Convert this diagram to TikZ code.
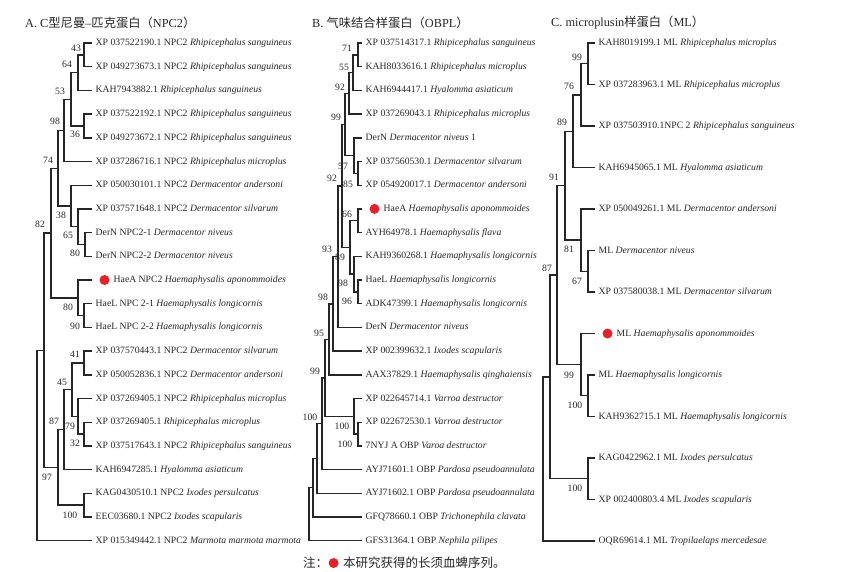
\documentclass[tikz,border=0pt]{standalone}
\usepackage{fontspec}
\setmainfont{Liberation Serif}
\newfontfamily\cjk{Noto Sans CJK SC}
\usetikzlibrary{positioning}
\definecolor{mred}{rgb}{0.91, 0.13, 0.16}
\definecolor{mgray}{rgb}{0.15, 0.15, 0.15}
\tikzset{br/.style = {line width = 1.4pt, draw = mgray}}
\tikzset{leaf/.style = {anchor = west, inner xsep = 3.5pt, inner ysep = 0, text height = 7pt, text depth = 2pt,
                        font = \fontsize{9.7}{11}\selectfont, text = mgray}}
\tikzset{bs/.style = {inner sep = 0, font = \fontsize{9.7}{11}\selectfont, text = mgray}}
\tikzset{hdot/.style = {fill = mred, circle, inner sep = 0, minimum size = 10}}
\tikzset{ttl/.style = {anchor = west, inner sep = 0, font = \fontsize{12.3}{14}\selectfont, text = mgray}}

\begin{document}
\begin{tikzpicture}[x = 1pt, y = -1pt]
    \useasboundingbox (0, 0) rectangle (846, 571);

    % A: NPC2
    \node [ttl] (ta) at (25, 23) {A. C{\cjk 型尼曼}–{\cjk 匹克蛋白（}NPC2{\cjk ）}};
    \foreach \i/\t in {1/{XP 037522190.1 NPC2 \textit{Rhipicephalus sanguineus}},
                       2/{XP 049273673.1 NPC2 \textit{Rhipicephalus sanguineus}},
                       3/{KAH7943882.1 \textit{Rhipicephalus sanguineus}},
                       4/{XP 037522192.1 NPC2 \textit{Rhipicephalus sanguineus}},
                       5/{XP 049273672.1 NPC2 \textit{Rhipicephalus sanguineus}},
                       6/{XP 037286716.1 NPC2 \textit{Rhipicephalus microplus}},
                       7/{XP 050030101.1 NPC2 \textit{Dermacentor andersoni}},
                       8/{XP 037571648.1 NPC2 \textit{Dermacentor silvarum}},
                       9/{DerN NPC2-1 \textit{Dermacentor niveus}},
                       10/{DerN NPC2-2 \textit{Dermacentor niveus}},
                       11/{\hspace{18pt}HaeA NPC2 \textit{Haemaphysalis aponommoides}},
                       12/{HaeL NPC 2-1 \textit{Haemaphysalis longicornis}},
                       13/{HaeL NPC 2-2 \textit{Haemaphysalis longicornis}},
                       14/{XP 037570443.1 NPC2 \textit{Dermacentor silvarum}},
                       15/{XP 050052836.1 NPC2 \textit{Dermacentor andersoni}},
                       16/{XP 037269405.1 NPC2 \textit{Rhipicephalus microplus}},
                       17/{XP 037269405.1 \textit{Rhipicephalus microplus}},
                       18/{XP 037517643.1 NPC2 \textit{Rhipicephalus sanguineus}},
                       19/{KAH6947285.1 \textit{Hyalomma asiaticum}},
                       20/{KAG0430510.1 NPC2 \textit{Ixodes persulcatus}},
                       21/{EEC03680.1 NPC2 \textit{Ixodes scapularis}},
                       22/{XP 015349442.1 NPC2 \textit{Marmota marmota marmota}}}
      \node [leaf] (a\i) at (92, {43 + (\i - 1) * 23.7}) {\t};
    \node [hdot] (da) at (104.5, 280) {};

    \coordinate (an1) at (84, 54.85);   \coordinate (an2) at (78, 72.6);
    \coordinate (an3) at (84, 125.95);  \coordinate (an4) at (71, 99.3);
    \coordinate (an5) at (64, 130.4);   \coordinate (an6) at (85, 244.45);
    \coordinate (an7) at (78, 226.7);   \coordinate (an8) at (71, 205.95);
    \coordinate (an9) at (58, 168.2);   \coordinate (an10) at (84, 315.55);
    \coordinate (an11) at (78, 297.8);  \coordinate (an12) at (51, 233);
    \coordinate (an13) at (84, 362.95); \coordinate (an14) at (84, 434.05);
    \coordinate (an15) at (78, 416.3);  \coordinate (an16) at (72, 389.6);
    \coordinate (an17) at (64, 429.6);  \coordinate (an18) at (84, 505.15);
    \coordinate (an19) at (58, 467.4);  \coordinate (an20) at (44, 350.2);
    \coordinate (aroot) at (37, 445);

    \foreach \p/\c in {an1/a1.west, an1/a2.west, an2/an1, an2/a3.west, an3/a4.west, an3/a5.west,
                       an4/an2, an4/an3, an5/an4, an5/a6.west, an6/a9.west, an6/a10.west,
                       an7/a8.west, an7/an6, an8/a7.west, an8/an7, an9/an5, an9/an8,
                       an10/a12.west, an10/a13.west, an11/a11.west, an11/an10, an12/an9, an12/an11,
                       an13/a14.west, an13/a15.west, an14/a17.west, an14/a18.west, an15/a16.west, an15/an14,
                       an16/an13, an16/an15, an17/an16, an17/a19.west, an18/a20.west, an18/a21.west,
                       an19/an17, an19/an18, an20/an12, an20/an19, aroot/an20, aroot/a22.west}
      \draw [br] (\p) |- (\c);

    \foreach \x/\y/\v in {76/48/43, 67/64/64, 60/91/53, 55/121/98, 75/134/36, 48/160/74,
                          61/215/38, 68/235/65, 75/253/80, 40/224/82, 68/307/80, 75/326/90,
                          75/354/41, 62/382/45, 54/421/87, 70/426/79, 75/443/32, 47/477/97, 70/515/100}
      \node [bs] at (\x, \y) {\v};

    % B: OBPL
    \node [ttl] (tb) at (312, 23) {B. {\cjk 气味结合样蛋白（}OBPL{\cjk ）}};
    \foreach \i/\t in {1/{XP 037514317.1 \textit{Rhipicephalus sanguineus}},
                       2/{KAH8033616.1 \textit{Rhipicephalus microplus}},
                       3/{KAH6944417.1 \textit{Hyalomma asiaticum}},
                       4/{XP 037269043.1 \textit{Rhipicephalus microplus}},
                       5/{DerN \textit{Dermacentor niveus} 1},
                       6/{XP 037560530.1 \textit{Dermacentor silvarum}},
                       7/{XP 054920017.1 \textit{Dermacentor andersoni}},
                       8/{\hspace{18pt}HaeA \textit{Haemaphysalis aponommoides}},
                       9/{AYH64978.1 \textit{Haemaphysalis flava}},
                       10/{KAH9360268.1 \textit{Haemaphysalis longicornis}},
                       11/{HaeL \textit{Haemaphysalis longicornis}},
                       12/{ADK47399.1 \textit{Haemaphysalis longicornis}},
                       13/{DerN \textit{Dermacentor niveus}},
                       14/{XP 002399632.1 \textit{Ixodes scapularis}},
                       15/{AAX37829.1 \textit{Haemaphysalis qinghaiensis}},
                       16/{XP 022645714.1 \textit{Varroa destructor}},
                       17/{XP 022672530.1 \textit{Varroa destructor}},
                       18/{7NYJ A OBP \textit{Varoa destructor}},
                       19/{AYJ71601.1 OBP \textit{Pardosa pseudoannulata}},
                       20/{AYJ71602.1 OBP \textit{Pardosa pseudoannulata}},
                       21/{GFQ78660.1 OBP \textit{Trichonephila clavata}},
                       22/{GFS31364.1 OBP \textit{Nephila pilipes}}}
      \node [leaf] (b\i) at (362, {43 + (\i - 1) * 23.7}) {\t};
    \node [hdot] (db) at (374.5, 208.9) {};

    \coordinate (bn1) at (358, 54.85);   \coordinate (bn2) at (353, 72.6);
    \coordinate (bn3) at (349, 93.35);   \coordinate (bn4) at (358, 173.35);
    \coordinate (bn5) at (354, 155.6);   \coordinate (bn6) at (345, 124.5);
    \coordinate (bn7) at (358, 220.75);  \coordinate (bn8) at (358, 291.85);
    \coordinate (bn9) at (354, 274.1);   \coordinate (bn10) at (350, 247.4);
    \coordinate (bn11) at (342, 186);    \coordinate (bn12) at (338, 256.7);
    \coordinate (bn13) at (333, 303.9);  \coordinate (bn14) at (329, 339.35);
    \coordinate (bn15) at (358, 434.05); \coordinate (bn16) at (354, 416.3);
    \coordinate (bn17) at (325, 377.8);  \coordinate (bn18) at (322, 423.7);
    \coordinate (bn19) at (317, 458.5);  \coordinate (bn20) at (313, 487.75);
    \coordinate (broot) at (309, 510);

    \foreach \p/\c in {bn1/b1.west, bn1/b2.west, bn2/bn1, bn2/b3.west, bn3/bn2, bn3/b4.west,
                       bn4/b6.west, bn4/b7.west, bn5/b5.west, bn5/bn4, bn6/bn3, bn6/bn5,
                       bn7/b8.west, bn7/b9.west, bn8/b11.west, bn8/b12.west, bn9/b10.west, bn9/bn8,
                       bn10/bn7, bn10/bn9, bn11/bn6, bn11/bn10, bn12/bn11, bn12/b13.west,
                       bn13/bn12, bn13/b14.west, bn14/bn13, bn14/b15.west, bn15/b17.west, bn15/b18.west,
                       bn16/b16.west, bn16/bn15, bn17/bn14, bn17/bn16, bn18/bn17, bn18/b19.west,
                       bn19/bn18, bn19/b20.west, bn20/bn19, bn20/b21.west, broot/bn20, broot/b22.west}
      \draw [br] (\p) |- (\c);

    \foreach \x/\y/\v in {347/48/71, 344/67/55, 340/87/92, 348/184/85, 343/166/57, 336/117/99,
                          347/214/66, 347/301/96, 343/283/98, 340/257/89, 332/178/92, 327/249/93,
                          323/297/98, 319/333/95, 345/444/100, 342/426/100, 315/371/99, 310/417/100}
      \node [bs] at (\x, \y) {\v};

    % C: ML
    \node [ttl] (tc) at (551, 23) {C. microplusin{\cjk 样蛋白（}ML{\cjk ）}};
    \foreach \i/\t in {1/{KAH8019199.1 ML \textit{Rhipicephalus microplus}},
                       2/{XP 037283963.1 ML \textit{Rhipicephalus microplus}},
                       3/{XP 037503910.1NPC 2 \textit{Rhipicephalus sanguineus}},
                       4/{KAH6945065.1 ML \textit{Hyalomma asiaticum}},
                       5/{XP 050049261.1 ML \textit{Dermacentor andersoni}},
                       6/{ML \textit{Dermacentor niveus}},
                       7/{XP 037580038.1 ML \textit{Dermacentor silvarum}},
                       8/{\hspace{18pt}ML \textit{Haemaphysalis aponommoides}},
                       9/{ML \textit{Haemaphysalis longicornis}},
                       10/{KAH9362715.1 ML \textit{Haemaphysalis longicornis}},
                       11/{KAG0422962.1 ML \textit{Ixodes persulcatus}},
                       12/{XP 002400803.4 ML \textit{Ixodes scapularis}},
                       13/{OQR69614.1 ML \textit{Tropilaelaps mercedesae}}}
      \node [leaf] (c\i) at (595, {43 + (\i - 1) * 41.5}) {\t};
    \node [hdot] (dc) at (607.5, 333.5) {};

    \coordinate (ck1) at (588, 63.75);   \coordinate (ck2) at (581, 94.9);
    \coordinate (ck3) at (573, 131.2);   \coordinate (ck4) at (588, 271.25);
    \coordinate (ck5) at (581, 240.1);   \coordinate (ck6) at (565, 185.7);
    \coordinate (ck7) at (588, 395.75);  \coordinate (ck8) at (581, 364.6);
    \coordinate (ck9) at (557, 275.15);  \coordinate (ck10) at (588, 478.75);
    \coordinate (ck11) at (550, 376.95); \coordinate (croot) at (543, 460);

    \foreach \p/\c in {ck1/c1.west, ck1/c2.west, ck2/ck1, ck2/c3.west, ck3/ck2, ck3/c4.west,
                       ck4/c6.west, ck4/c7.west, ck5/c5.west, ck5/ck4, ck6/ck3, ck6/ck5,
                       ck7/c9.west, ck7/c10.west, ck8/c8.west, ck8/ck7, ck9/ck6, ck9/ck8,
                       ck10/c11.west, ck10/c12.west, ck11/ck9, ck11/ck10, croot/ck11, croot/c13.west}
      \draw [br] (\p) |- (\c);

    \foreach \x/\y/\v in {577/57/99, 569/86/76, 562/122/89, 577/281/67, 569/249/81,
                          554/177/91, 575/405/100, 569/375/99, 547/268/87, 575/488/100}
      \node [bs] at (\x, \y) {\v};

    % note
    \node [anchor = west, inner sep = 0, font = \fontsize{12.5}{14}\selectfont, text = mgray] (note) at (303, 563) {\cjk 注：};
    \node [hdot, right = 0pt of note] (ndot) {};
    \node [anchor = west, inner sep = 0, font = \fontsize{12.5}{14}\selectfont, text = mgray, right = 4pt of ndot] (notetxt) {\cjk 本研究获得的长须血蜱序列。};
\end{tikzpicture}
\end{document}
